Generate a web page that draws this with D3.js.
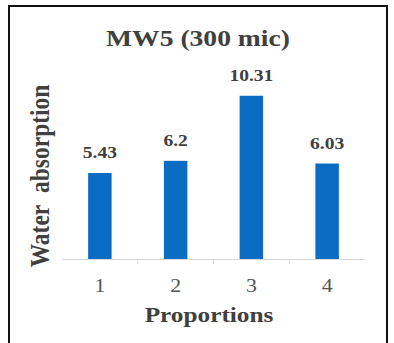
<!DOCTYPE html>
<html>
<head>
<meta charset="utf-8">
<script src="https://cdn.jsdelivr.net/npm/d3@7"></script>
<style>
  html, body { margin: 0; padding: 0; background: #fff; }
  svg { display: block; }
</style>
</head>
<body>
<svg id="chart" width="394" height="343"></svg>
<script>
// Water absorption per proportion
const categories = ["1", "2", "3", "4"];
const values = [5.43, 6.2, 10.31, 6.03];
const valueLabels = ["5.43", "6.2", "10.31", "6.03"];
const titleText = "MW5 (300 mic)";
const xTitle = "Proportions";
const yTitle = "Water\u00a0\u00a0absorption";

const svg = d3.select("#chart");
const W = 394, H = 343;
const margin = { left: 62, right: 29, top: 69, bottom: 84 };
const serif = "'Liberation Serif', 'Times New Roman', serif";
const textColor = "#404040";
const stretch = 1.15; // the lettering is set slightly wide

// Frame around the chart
svg.append("rect")
  .attr("x", 9).attr("y", 6)
  .attr("width", 378).attr("height", 345)
  .attr("fill", "#fff")
  .attr("stroke", "#111").attr("stroke-width", 2);

const x = d3.scaleBand()
  .domain(categories)
  .range([margin.left, W - margin.right])
  .paddingInner(0.69).paddingOuter(0.345);

const y = d3.scaleLinear()
  .domain([0, 12])
  .range([H - margin.bottom, margin.top]);

// Category axis along the base
const xAxis = d3.axisBottom(x).tickSize(0).tickPadding(0);
const gx = svg.append("g")
  .attr("transform", `translate(0,${y(0)})`)
  .call(xAxis);
gx.select(".domain").attr("stroke", "#d9d9d9").attr("stroke-width", 1)
  .attr("d", `M${margin.left},0.5H${W - margin.right}`);
gx.selectAll(".tick text")
  .attr("y", null).attr("dy", null)
  .attr("transform", `translate(0,33) scale(${stretch},1)`)
  .attr("font-family", serif).attr("font-size", 19)
  .attr("fill", "#555");

// Small separator ticks between categories
const step = x.step();
svg.append("g").selectAll("line")
  .data(categories.slice(1))
  .join("line")
  .attr("x1", d => x(d) - (step - x.bandwidth()) / 2)
  .attr("x2", d => x(d) - (step - x.bandwidth()) / 2)
  .attr("y1", y(0)).attr("y2", y(0) + 5)
  .attr("stroke", "#d9d9d9");

// Bars
svg.append("g").selectAll("rect")
  .data(values)
  .join("rect")
  .attr("x", (d, i) => x(categories[i]))
  .attr("width", x.bandwidth())
  .attr("y", d => y(d))
  .attr("height", d => y(0) - y(d))
  .attr("fill", "#0a6cc2");

// Value labels
svg.append("g").selectAll("text")
  .data(values)
  .join("text")
  .attr("transform", (d, i) =>
    `translate(${x(categories[i]) + x.bandwidth() / 2},${y(d) - 15}) scale(${stretch},1)`)
  .attr("text-anchor", "middle")
  .attr("font-family", serif).attr("font-weight", "bold")
  .attr("font-size", 17).attr("fill", textColor)
  .text((d, i) => valueLabels[i]);

// Title
svg.append("text")
  .attr("transform", `translate(198,46) scale(${stretch},1)`)
  .attr("text-anchor", "middle")
  .attr("font-family", serif).attr("font-weight", "bold")
  .attr("font-size", 24).attr("fill", textColor)
  .text(titleText);

// Axis titles
svg.append("text")
  .attr("transform", `translate(209,322) scale(${stretch},1)`)
  .attr("text-anchor", "middle")
  .attr("font-family", serif).attr("font-weight", "bold")
  .attr("font-size", 22).attr("fill", textColor)
  .text(xTitle);

svg.append("text")
  .attr("transform", `translate(49,176) scale(${stretch},1) rotate(-90)`)
  .attr("text-anchor", "middle")
  .attr("font-family", serif).attr("font-weight", "bold")
  .attr("font-size", 23.5).attr("fill", textColor)
  .text(yTitle);
</script>
</body>
</html>
